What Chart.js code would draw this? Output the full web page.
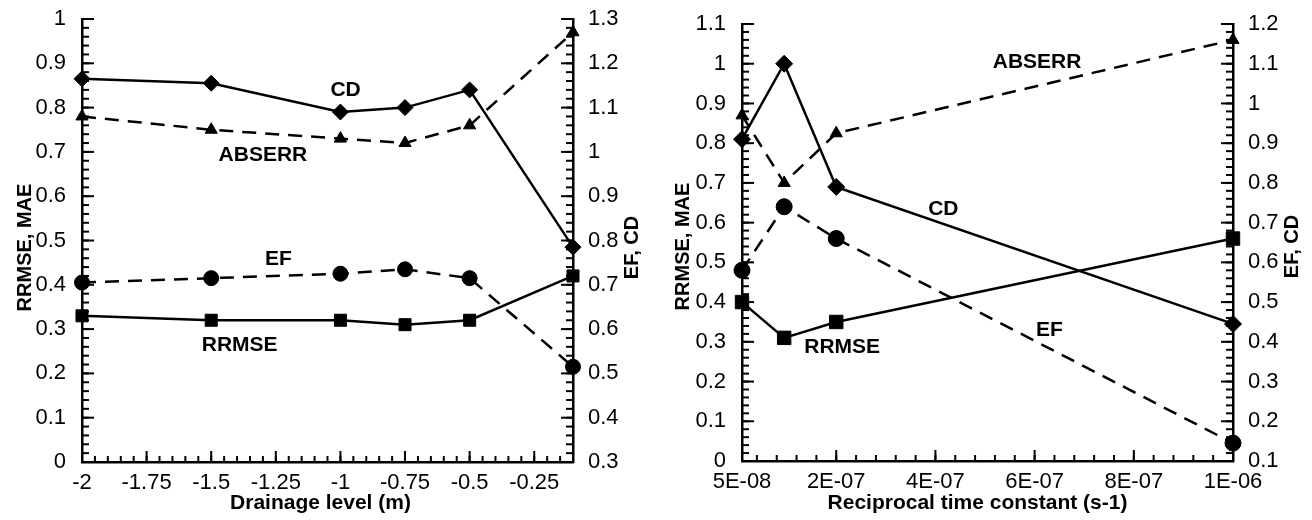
<!DOCTYPE html>
<html>
<head>
<meta charset="utf-8">
<script src="https://cdn.jsdelivr.net/npm/chart.js@4/dist/chart.umd.min.js"></script>
<style>
  html, body { margin: 0; padding: 0; background: #fff; }
  #wrap { position: relative; width: 1312px; height: 520px; }
  canvas { position: absolute; top: 0; }
</style>
</head>
<body>
<div id="wrap">
  <canvas id="left" width="656" height="520" style="left:0"></canvas>
  <canvas id="right" width="656" height="520" style="left:656px"></canvas>
</div>
<script>
// left panel: drainage level
var drainLevel = [-2, -1.5, -1, -0.75, -0.5, -0.1];
var cdLeft     = [1.165, 1.155, 1.09, 1.10, 1.14, 0.785];
var abserrLeft = [0.78, 0.75, 0.73, 0.72, 0.76, 0.97];
var efLeft     = [0.705, 0.715, 0.725, 0.735, 0.715, 0.515];
var rrmseLeft  = [0.33, 0.32, 0.32, 0.31, 0.32, 0.42];
var drainTicks  = [-2, -1.75, -1.5, -1.25, -1, -0.75, -0.5, -0.25];
var drainLabels = ['-2', '-1.75', '-1.5', '-1.25', '-1', '-0.75', '-0.5', '-0.25'];

// right panel: reciprocal time constant
var recipTime   = [1e-8, 9.5e-8, 2e-7, 1e-6];
var cdRight     = [0.91, 1.10, 0.79, 0.445];
var abserrRight = [0.87, 0.70, 0.825, 1.06];
var efRight     = [0.58, 0.74, 0.66, 0.145];
var rrmseRight  = [0.40, 0.31, 0.35, 0.56];
var recipTicks  = [1e-8, 2e-7, 4e-7, 6e-7, 8e-7, 1e-6];
var recipLabels = ['5E-08', '2E-07', '4E-07', '6E-07', '8E-07', '1E-06'];

var FONT = '"Liberation Sans", Arial, sans-serif';

function pts(xs, ys) {
  return xs.map(function(x, i) { return {x: x, y: ys[i]}; });
}

function rangeTicks(min, max, step) {
  var out = [];
  var n = Math.round((max - min) / step);
  for (var i = 0; i <= n; i++) out.push(+(min + i * step).toFixed(10));
  return out;
}

// tick marks drawn on the inside of the frame
var innerTicks = {
  id: 'innerTicks',
  afterDatasetsDraw: function(chart, args, opts) {
    var ctx = chart.ctx, a = chart.chartArea;
    ctx.save();
    ctx.strokeStyle = '#000';
    ctx.lineWidth = 2;
    Object.keys(opts.scales).forEach(function(id) {
      var s = chart.scales[id], o = opts.scales[id];
      function mark(v, len) {
        var p = s.getPixelForValue(v);
        ctx.beginPath();
        if (s.position === 'bottom') { ctx.moveTo(p, a.bottom); ctx.lineTo(p, a.bottom - len); }
        else if (s.position === 'left') { ctx.moveTo(a.left, p); ctx.lineTo(a.left + len, p); }
        else { ctx.moveTo(a.right, p); ctx.lineTo(a.right - len, p); }
        ctx.stroke();
      }
      var n = Math.round((o.to - o.from) / o.minor);
      for (var i = 0; i <= n; i++) mark(o.from + i * o.minor, o.minorLen);
      s.ticks.forEach(function(t) { mark(t.value, o.majorLen); });
    });
    ctx.restore();
  }
};

// series names and axis titles
var texts = {
  id: 'texts',
  afterDraw: function(chart, args, opts) {
    var ctx = chart.ctx, a = chart.chartArea;
    ctx.save();
    ctx.fillStyle = '#000';
    ctx.font = 'bold 21px ' + FONT;
    ctx.textAlign = 'center';
    ctx.textBaseline = 'middle';
    opts.notes.forEach(function(n) {
      var x = chart.scales.x.getPixelForValue(n.x);
      var y = chart.scales[n.axis].getPixelForValue(n.y);
      ctx.fillText(n.text, x, y);
    });
    ctx.font = 'bold 21px ' + FONT;
    ctx.fillText(opts.xTitle, (a.left + a.right) / 2 + opts.xTitleDx, opts.xTitleY);
    ctx.font = 'bold 20px ' + FONT;
    [[opts.leftTitle, opts.leftTitleX], [opts.rightTitle, opts.rightTitleX]].forEach(function(t) {
      ctx.save();
      ctx.translate(t[1], (a.top + a.bottom) / 2 + opts.titleDy);
      ctx.rotate(-Math.PI / 2);
      ctx.fillText(t[0], 0, 0);
      ctx.restore();
    });
    ctx.restore();
  }
};

function dataset(data, axis, shape, radius, dashed) {
  return {
    data: data,
    yAxisID: axis,
    borderColor: '#000',
    backgroundColor: '#000',
    borderWidth: 2.5,
    borderDash: dashed ? [14, 9] : [],
    pointStyle: shape,
    pointRadius: radius,
    pointBorderWidth: 1,
    pointBackgroundColor: '#000',
    pointBorderColor: '#000',
    tension: 0,
    clip: false
  };
}

function yScale(pos, min, max, width, pad) {
  return {
    type: 'linear',
    position: pos,
    min: min,
    max: max,
    grid: {display: false},
    border: {display: true, color: '#000', width: 2.5},
    afterBuildTicks: function(s) {
      s.ticks = rangeTicks(min, max, 0.1).map(function(v) { return {value: v}; });
    },
    afterFit: function(s) { s.width = width; },
    ticks: {
      color: '#000',
      padding: pad,
      font: {family: FONT, size: 22, lineHeight: 1},
      callback: function(v) { return String(+v.toFixed(2)); }
    }
  };
}

function xScale(min, max, tickVals, tickLabels, height) {
  return {
    type: 'linear',
    position: 'bottom',
    min: min,
    max: max,
    grid: {display: false},
    border: {display: true, color: '#000', width: 2.5},
    afterBuildTicks: function(s) {
      s.ticks = tickVals.map(function(v) { return {value: v}; });
    },
    afterFit: function(s) { s.height = height; },
    ticks: {
      color: '#000',
      padding: 2,
      maxRotation: 0,
      autoSkip: false,
      font: {family: FONT, size: 22, lineHeight: 1},
      callback: function(v, i) { return tickLabels[i]; }
    }
  };
}

function makeChart(id, cfg) {
  return new Chart(document.getElementById(id), {
    type: 'line',
    data: {datasets: cfg.datasets},
    options: {
      responsive: false,
      animation: false,
      devicePixelRatio: 1,
      layout: {padding: {top: cfg.top, left: 0, right: 0, bottom: 0}},
      plugins: {
        legend: {display: false},
        tooltip: {enabled: false},
        innerTicks: {scales: cfg.tickMarks},
        texts: cfg.texts
      },
      scales: cfg.scales
    },
    plugins: [innerTicks, texts]
  });
}

makeChart('left', {
  top: 17,
  datasets: [
    dataset(pts(drainLevel, cdLeft), 'y2', 'rectRot', 8, false),
    dataset(pts(drainLevel, abserrLeft), 'y', 'triangle', 7, true),
    dataset(pts(drainLevel, efLeft), 'y2', 'circle', 7.5, true),
    dataset(pts(drainLevel, rrmseLeft), 'y', 'rect', 8.5, false)
  ],
  scales: {
    x: xScale(-2, -0.1, drainTicks, drainLabels, 58),
    y: yScale('left', 0, 1, 82, 8),
    y2: yScale('right', 0.3, 1.3, 83, 7)
  },
  tickMarks: {
    x: {from: -2, to: -0.1, minor: 0.05, minorLen: 6, majorLen: 11},
    y: {from: 0, to: 1, minor: 0.02, minorLen: 7, majorLen: 12},
    y2: {from: 0.3, to: 1.3, minor: 0.02, minorLen: 7, majorLen: 12}
  },
  texts: {
    notes: [
      {text: 'CD', x: -0.98, y: 0.84, axis: 'y'},
      {text: 'ABSERR', x: -1.30, y: 0.692, axis: 'y'},
      {text: 'EF', x: -1.24, y: 0.458, axis: 'y'},
      {text: 'RRMSE', x: -1.39, y: 0.263, axis: 'y'}
    ],
    xTitle: 'Drainage level (m)', xTitleDx: -7, xTitleY: 503,
    leftTitle: 'RRMSE, MAE', leftTitleX: 25,
    rightTitle: 'EF, CD', rightTitleX: 632,
    titleDy: 7
  }
});

makeChart('right', {
  top: 24,
  datasets: [
    dataset(pts(recipTime, cdRight), 'y2', 'rectRot', 8.5, false),
    dataset(pts(recipTime, abserrRight), 'y', 'triangle', 7, true),
    dataset(pts(recipTime, efRight), 'y2', 'circle', 8, true),
    dataset(pts(recipTime, rrmseRight), 'y', 'rect', 9.5, false)
  ],
  scales: {
    x: xScale(1e-8, 1e-6, recipTicks, recipLabels, 59),
    y: yScale('left', 0, 1.1, 86, 8),
    y2: yScale('right', 0.1, 1.2, 79, 7)
  },
  tickMarks: {
    x: {from: 4e-8, to: 1e-6, minor: 4e-8, minorLen: 6, majorLen: 11},
    y: {from: 0, to: 1.1, minor: 0.02, minorLen: 7, majorLen: 12},
    y2: {from: 0.1, to: 1.2, minor: 0.02, minorLen: 7, majorLen: 12}
  },
  texts: {
    notes: [
      {text: 'ABSERR', x: 6.05e-7, y: 1.005, axis: 'y'},
      {text: 'CD', x: 4.16e-7, y: 0.635, axis: 'y'},
      {text: 'RRMSE', x: 2.12e-7, y: 0.287, axis: 'y'},
      {text: 'EF', x: 6.3e-7, y: 0.33, axis: 'y'}
    ],
    xTitle: 'Reciprocal time constant (s-1)', xTitleDx: -10, xTitleY: 503,
    leftTitle: 'RRMSE, MAE', leftTitleX: 27,
    rightTitle: 'EF, CD', rightTitleX: 636,
    titleDy: 4
  }
});
</script>
</body>
</html>
